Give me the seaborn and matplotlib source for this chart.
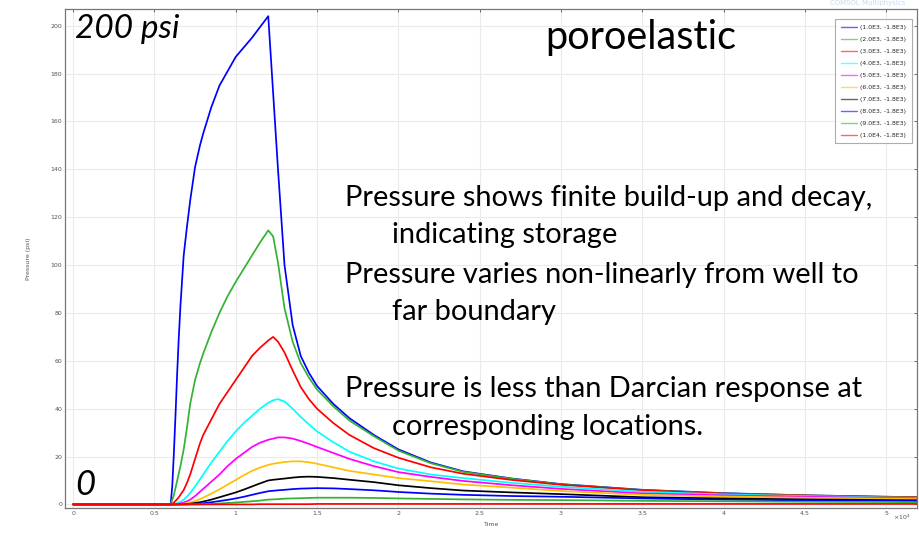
import numpy as np
import pandas as pd
import matplotlib
matplotlib.use("Agg")
import matplotlib.pyplot as plt
from matplotlib.ticker import MultipleLocator, FuncFormatter
import seaborn as sns

# ---------------- data ----------------
time = [0, 0.6, 0.61, 0.62, 0.63, 0.64, 0.65, 0.66, 0.68, 0.7,
        0.72, 0.75, 0.78, 0.8, 0.85, 0.9, 0.95, 1.0, 1.05, 1.1,
        1.15, 1.2, 1.23, 1.26, 1.3, 1.35, 1.4, 1.45, 1.5, 1.6,
        1.7, 1.85, 2.0, 2.2, 2.4, 2.7, 3.0, 3.5, 4.0, 4.5,
        5.0, 5.2]

labels = ["(1.0E3, -1.8E3)", "(2.0E3, -1.8E3)", "(3.0E3, -1.8E3)", "(4.0E3, -1.8E3)",
          "(5.0E3, -1.8E3)", "(6.0E3, -1.8E3)", "(7.0E3, -1.8E3)", "(8.0E3, -1.8E3)",
          "(9.0E3, -1.8E3)", "(1.0E4, -1.8E3)"]

p1 = [0, 0, 8, 22, 38, 55, 70, 83, 104, 116,
      127, 141, 150, 155, 166, 175, 181, 187, 191, 195,
      199.5, 204, 172, 140, 100, 75, 62, 55, 49.5, 42,
      36, 29, 23, 17.5, 13.8, 10.8, 8.5, 6.1, 4.7, 3.8,
      3.2, 3.0]
p2 = [0, 0, 2, 4, 7, 10, 13, 16, 23, 32,
      42, 52, 59, 63, 72, 80, 87, 93, 98.5, 104,
      109.5, 114.5, 112, 101, 82, 68, 59, 53, 48, 41,
      35, 28.5, 22.5, 17.2, 13.6, 10.7, 8.4, 6.0, 4.6, 3.8,
      3.2, 3.0]
p3 = [0, 0, 0.3, 0.8, 1.5, 2.2, 3, 4, 6, 9,
      12.5, 19, 25.5, 29, 35.5, 42, 47, 52, 57, 62,
      65.5, 68.5, 70, 68, 63.5, 56, 49, 44, 40, 34,
      29, 23.5, 19.5, 15.5, 12.8, 10.2, 8.2, 5.9, 4.5, 3.7,
      3.1, 2.9]
p4 = [0, 0, 0, 0.1, 0.3, 0.5, 0.8, 1.1, 2, 3.2,
      4.8, 7.5, 10.5, 12.5, 17.5, 22, 26.5, 30.5, 34, 37,
      40, 42.5, 43.5, 44, 43, 40, 36.5, 33.5, 30.5, 26,
      22, 18, 15, 12.5, 11, 9, 7.4, 5.3, 4.2, 3.5,
      2.9, 2.7]
p5 = [0, 0, 0, 0, 0.1, 0.2, 0.3, 0.4, 0.8, 1.3,
      2, 3.5, 5.3, 6.5, 9.5, 12.5, 16, 19, 21.5, 24,
      25.8, 27, 27.5, 28, 28, 27.5, 26.5, 25.3, 24, 21.5,
      19, 16, 13.5, 11.5, 9.8, 8, 6.5, 4.6, 3.8, 3.2,
      2.7, 2.5]
p6 = [0, 0, 0, 0, 0, 0, 0.1, 0.15, 0.3, 0.5,
      0.8, 1.4, 2.2, 2.8, 4.5, 6.3, 8.3, 10.2, 12.2, 14,
      15.4, 16.5, 17, 17.3, 17.7, 18, 18, 17.6, 17, 15.5,
      14, 12.5, 11, 9.7, 8.3, 7, 5.6, 4, 3.3, 2.8,
      2.4, 2.2]
p7 = [0, 0, 0, 0, 0, 0, 0, 0, 0.1, 0.2,
      0.3, 0.6, 0.9, 1.2, 2, 3, 4, 5, 6.2, 7.5,
      8.8, 10, 10.3, 10.5, 10.8, 11.2, 11.5, 11.6, 11.5, 11,
      10.3, 9.3, 8, 6.8, 5.8, 5, 4.3, 3, 2.5, 2.1,
      1.8, 1.7]
p8 = [0, 0, 0, 0, 0, 0, 0, 0, 0, 0,
      0.1, 0.2, 0.4, 0.5, 0.9, 1.4, 1.9, 2.5, 3.2, 4,
      4.8, 5.5, 5.7, 5.9, 6.1, 6.4, 6.6, 6.7, 6.8, 6.7,
      6.4, 5.9, 5.2, 4.5, 4, 3.5, 3.2, 2.5, 2, 1.7,
      1.5, 1.4]
p9 = [0, 0, 0, 0, 0, 0, 0, 0, 0, 0,
      0, 0, 0.05, 0.1, 0.2, 0.4, 0.6, 0.8, 1.05, 1.3,
      1.6, 2, 2.1, 2.2, 2.4, 2.5, 2.6, 2.7, 2.8, 2.8,
      2.8, 2.7, 2.5, 2.3, 2.1, 1.9, 1.8, 1.5, 1.3, 1.1,
      1, 0.9]
p10 = [0, 0, 0, 0, 0, 0, 0, 0, 0, 0,
       0, 0, 0, 0, 0, 0, 0, 0, 0, 0,
       0.1, 0.1, 0.1, 0.1, 0.1, 0.1, 0.1, 0.1, 0.2, 0.2,
       0.2, 0.2, 0.2, 0.2, 0.2, 0.2, 0.2, 0.2, 0.2, 0.2,
       0.2, 0.2]
series = [p1, p2, p3, p4, p5, p6, p7, p8, p9, p10]

colors = ["#0000ff", "#33b233", "#ff0000", "#00ffff", "#ff00ff",
          "#ffbf00", "#000000", "#0000ff", "#33b233", "#ff0000"]

rows = []
for lab, vals in zip(labels, series):
    for t, v in zip(time, vals):
        rows.append((t, v, lab))
df = pd.DataFrame(rows, columns=["Time", "Pressure", "series"])

# ---------------- figure ----------------
sns.set_theme(style="white")
plt.rcParams["font.family"] = ["DejaVu Sans"]

W, H = 920, 533
fig = plt.figure(figsize=(W / 100, H / 100), dpi=100)
ax = fig.add_axes([65 / W, 1 - 508 / H, (917 - 65) / W, (508 - 9) / H])

sns.lineplot(data=df, x="Time", y="Pressure", hue="series", hue_order=labels,
             palette=dict(zip(labels, colors)), estimator=None, errorbar=None,
             linewidth=1.25, ax=ax, sort=False)

ax.set_xlim(-0.05, 5.19)
ax.set_ylim(-1.5, 207)
ax.xaxis.set_major_locator(MultipleLocator(0.5))
ax.yaxis.set_major_locator(MultipleLocator(20))
ax.xaxis.set_major_formatter(FuncFormatter(lambda v, p: f"{v:g}"))
ax.yaxis.set_major_formatter(FuncFormatter(lambda v, p: f"{v:g}"))
ax.tick_params(axis="both", labelsize=4.5, colors="#555555", length=2.5, width=0.6,
               direction="in", top=True, right=True, pad=2)
ax.grid(True, color="#ebebeb", linewidth=0.8)
for s in ax.spines.values():
    s.set_color("#777777")
    s.set_linewidth(0.9)
ax.set_xlabel("Time", fontsize=4.5, color="#555555", labelpad=1)
ax.set_ylabel("Pressure (psi)", fontsize=4.5, color="#555555", labelpad=14)
ax.xaxis.set_label_coords((492 - 65) / (917 - 65), -0.028)

leg = ax.legend(loc="upper right", bbox_to_anchor=((912 - 65) / 852, (508 - 19) / 499),
                borderaxespad=0, fontsize=4.4, frameon=True, fancybox=False,
                handlelength=2.6, labelspacing=1.1, borderpad=0.9, handletextpad=0.6)
leg.get_frame().set_edgecolor("#999999")
leg.get_frame().set_linewidth(0.8)
for line in leg.get_lines():
    line.set_linewidth(1.0)
    line.set_alpha(0.6)

# x10^4 multiplier
fig.text(893 / W, 1 - 517 / H, "×10$^4$", fontsize=4.5, color="#555555", va="center", ha="left")
# faint logo
fig.text(905 / W, 1 - 3 / H, "COMSOL Multiphysics", fontsize=5, color="#c9d9ef",
         ha="right", va="center")

big = ["Lato", "DejaVu Sans"]
fig.text(75 / W, 1 - 38 / H, "200 psi", fontsize=24, style="italic", family=big,
         va="baseline", ha="left", color="black")
fig.text(75 / W, 1 - 495 / H, "0", fontsize=25, style="italic", family=big,
         va="baseline", ha="left", color="black")
fig.text(545 / W, 1 - 49 / H, "poroelastic", fontsize=28.5, family=big,
         va="baseline", ha="left", color="black")

lines = [
    (345, 206, "Pressure shows finite build-up and decay,"),
    (392, 243, "indicating storage"),
    (345, 283, "Pressure varies non-linearly from well to"),
    (392, 320, "far boundary"),
    (345, 397, "Pressure is less than Darcian response at"),
    (392, 435, "corresponding locations."),
]
for x, y, s in lines:
    fig.text(x / W, 1 - y / H, s, fontsize=20.9, family=big, va="baseline",
             ha="left", color="black")

fig.savefig("out.png", dpi=100)
